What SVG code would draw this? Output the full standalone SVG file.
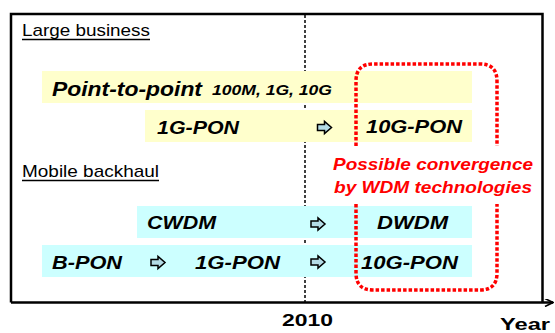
<svg xmlns="http://www.w3.org/2000/svg" width="555" height="333" viewBox="0 0 555 333">
<style>
text{font-family:"Liberation Sans",Arial,sans-serif;fill:#000}
.lbl{font-size:17px}
.bi{font-weight:bold;font-style:italic;font-size:17.5px;letter-spacing:0}
.sm{font-weight:bold;font-style:italic;font-size:14px}
.red{fill:#ff0000;font-weight:bold;font-style:italic;font-size:17px}
.ax{font-weight:bold;font-size:17px}
.yel{fill:#ffffcc}
.cyan{fill:#ccffff}
.blk{fill:#b4dce6;stroke:#000;stroke-width:1.5;stroke-linejoin:miter}
.red-dot{fill:none;stroke:#ff0000;stroke-width:3.5;stroke-dasharray:3.5 2}
</style>
<defs>
<path id="barrow" d="M-7,-3 H0 V-6 L7,0 L0,6 V3 H-7 Z"/>
<marker id="axhead" viewBox="0 0 10 10" refX="10" refY="5" markerWidth="10" markerHeight="8" markerUnits="userSpaceOnUse" orient="auto">
<path d="M0,0 L10,5 L0,10" fill="none" stroke="#000" stroke-width="2"/>
</marker>
</defs>
<rect width="555" height="333" fill="#fff"/>

<g id="frame">
<polyline points="11,302.5 11,14 542.5,14 542.5,302.5" fill="none" stroke="#000" stroke-width="2.5"/>
</g>

<g id="connectors">
<line x1="11" y1="302.5" x2="553" y2="302.5" stroke="#000" stroke-width="2.5" marker-end="url(#axhead)"/>
<line x1="305" y1="15" x2="305" y2="302" stroke="#000" stroke-width="1.5" stroke-dasharray="3 2"/>
</g>

<g id="large-business">
<text class="lbl" x="22" y="36" textLength="128" lengthAdjust="spacingAndGlyphs">Large business</text>
<line x1="22" y1="39.5" x2="150" y2="39.5" stroke="#000" stroke-width="1.5"/>
</g>

<g id="point-to-point">
<rect class="yel" x="42" y="71" width="430" height="32"/>
<text class="bi" style="font-size:20px" x="52" y="96" textLength="150" lengthAdjust="spacingAndGlyphs">Point-to-point</text>
<text class="sm" x="212" y="95" textLength="120" lengthAdjust="spacingAndGlyphs">100M, 1G, 10G</text>
</g>

<g id="pon-large">
<rect class="yel" x="145" y="110" width="327" height="32"/>
<text class="bi" x="157" y="133.5" textLength="82" lengthAdjust="spacingAndGlyphs">1G-PON</text>
<use href="#barrow" x="324.5" y="127.5" class="blk"/>
<text class="bi" x="366" y="133" textLength="96" lengthAdjust="spacingAndGlyphs">10G-PON</text>
</g>

<g id="mobile-backhaul">
<text class="lbl" x="22" y="177" textLength="137" lengthAdjust="spacingAndGlyphs">Mobile backhaul</text>
<line x1="22" y1="180.5" x2="159" y2="180.5" stroke="#000" stroke-width="1.5"/>
</g>

<g id="wdm">
<rect class="cyan" x="137" y="206" width="335" height="32"/>
<text class="bi" x="147" y="229" textLength="69" lengthAdjust="spacingAndGlyphs">CWDM</text>
<use href="#barrow" x="318" y="224" class="blk"/>
<text class="bi" x="377" y="229" textLength="71" lengthAdjust="spacingAndGlyphs">DWDM</text>
</g>

<g id="pon-mobile">
<rect class="cyan" x="42" y="245" width="430" height="32"/>
<text class="bi" x="52" y="269" textLength="70" lengthAdjust="spacingAndGlyphs">B-PON</text>
<use href="#barrow" x="158" y="262.5" class="blk"/>
<text class="bi" x="195" y="269" textLength="85" lengthAdjust="spacingAndGlyphs">1G-PON</text>
<use href="#barrow" x="318" y="262" class="blk"/>
<text class="bi" x="361" y="268.5" textLength="97" lengthAdjust="spacingAndGlyphs">10G-PON</text>
</g>

<g id="convergence">
<path class="red-dot" d="M356,146 V81 Q356,64 373,64 H480 Q497,64 497,81 V146"/>
<path class="red-dot" d="M356,204 V273 Q356,290 373,290 H480 Q497,290 497,273 V204"/>
<text class="red" x="333" y="170" textLength="200" lengthAdjust="spacingAndGlyphs">Possible convergence</text>
<text class="red" x="334" y="193" textLength="198" lengthAdjust="spacingAndGlyphs">by WDM technologies</text>
</g>

<g id="axis-labels">
<text class="ax" x="282" y="326" textLength="51" lengthAdjust="spacingAndGlyphs">2010</text>
<text class="ax" x="500" y="330" textLength="50" lengthAdjust="spacingAndGlyphs">Year</text>
</g>
</svg>
